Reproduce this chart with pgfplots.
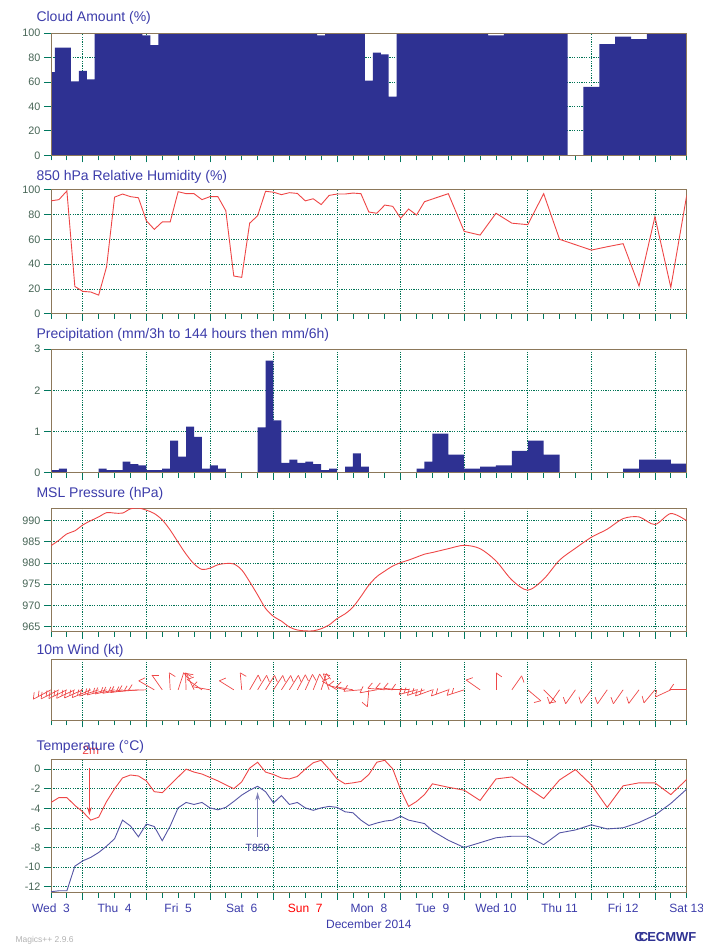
\documentclass[border=0pt]{standalone}
\usepackage{pgfplots}
\pgfplotsset{compat=1.18}
\usepackage{pgfplotstable}
\usetikzlibrary{arrows.meta}
\usepackage{fontspec}
\setmainfont{Liberation Sans}
\definecolor{navy}{RGB}{46,49,146}
\definecolor{framec}{RGB}{140,120,90}
\definecolor{gridc}{RGB}{0,115,85}
\definecolor{tickc}{RGB}{0,120,95}
\definecolor{labc}{RGB}{70,100,85}
\definecolor{titc}{RGB}{60,60,170}
\definecolor{curvered}{RGB}{238,70,70}
\definecolor{curveblue}{RGB}{85,85,165}
\definecolor{arrowblue}{RGB}{130,130,185}
\tikzset{ttl/.style={anchor=west, font=\fontsize{14}{16}\selectfont, color=titc, xshift=-18pt}}
\pgfplotsset{
  met/.style={
    scale only axis, width=635.7pt,
    xmin=0, xmax=240,
    clip mode=individual,
    axis line style={framec, line width=0.9pt},
    xtick={12,36,...,228}, minor xtick={0,6,...,240},
    xticklabels={},
    xtick pos=bottom, ytick pos=left,
    tick align=outside,
    major tick length=7pt, minor tick length=5pt,
    every tick/.style={tickc, line width=0.8pt},
    grid=major,
    major grid style={gridc, dash pattern=on 1.2pt off 1.2pt, line width=0.8pt},
    tick label style={font=\fontsize{10.8}{12}\selectfont, color=labc},
    /pgf/number format/assume math mode=true,
    no markers,
  },
}
\pgfplotstableread{
t a L f2
0 208 20 6
3 207 20 6
6 206 20 6
9 205 20 6
12 204 20 6
15 203 20 6
18 198 20 6
21 195 20 6
24 192 20 6
27 190 20 6
30 188 20 6
33 185 20 6
36 182 18 0
39 150 18 0
42 125 18 0
45 93 17 0
48 72 18 0
51 92 17 0
54 115 18 0
57 145 18 0
60 170 18 0
69 148 17 0
72 95 17 0
75 60 17 0
78 58 17 0
81 58 17 0
84 57 17 0
87 57 17 0
90 58 17 0
93 62 17 0
96 65 17 0
99 68 17 0
102 72 17 0
105 110 17 0
108 150 17 0
111 165 17 0
114 170 17 0
117 185 17 0
120 265 17 0
123 190 17 0
126 175 17 0
129 175 17 0
132 175 17 0
135 180 17 0
138 195 18 6
141 198 18 6
144 200 18 6
150 200 18 6
156 198 18 6
162 145 17 0
168 90 17 0
174 55 17 0
180 -40 17 0
186 -45 17 0
192 235 17 0
198 235 17 0
204 233 17 0
210 235 17 0
216 235 17 0
222 233 17 0
228 230 17 0
234 205 17 0
240 180 17 0
}\windtable
\begin{document}
\begin{tikzpicture}
\useasboundingbox (0pt,0pt) rectangle (702pt,-945pt);
% ---------------- Cloud amount
\begin{axis}[met, at={(51pt,-33pt)}, anchor=north west, height=122.3pt,
  ymin=0, ymax=100, ytick={0,20,...,100}]
\addplot[const plot, fill=navy, draw=none] table {
0 68
1.5 88
7.5 60.5
10.5 69
13.5 62
16.5 99
19.5 100
34.5 98
37.5 90
40.5 100
100.5 98
103.5 100
118.5 61
121.5 84
124.5 82.5
127.5 48
130.5 100
165 98
171 100
195 0
201 56
207 91
213 97
219 95
225 100
240 100
} \closedcycle;
\draw[framec, line width=0.9pt] (rel axis cs:0,0) rectangle (rel axis cs:1,1);
\node[ttl] at (rel axis cs:0,1) [yshift=15pt] {Cloud Amount (\%)};
\end{axis}
% ---------------- RH 850
\begin{axis}[met, at={(51pt,-189.7pt)}, anchor=north west, height=124pt,
  ymin=0, ymax=100, ytick={0,20,...,100}]
\addplot[curvered, line width=0.9pt] table {
0 91
3 92
6 99
9 22
12 18
15 17.5
18 15
21 38
24 94
27 96.5
30 94.4
33 93.5
36 75
39 68
42 74
45 74
48 98.4
51 96.8
54 96.8
57 92
60 94.4
63 94.4
66 83
69 30.4
72 29.3
75 73
78 79
81 98.7
84 98
87 96
90 97.6
93 97
96 91
99 92.7
102 88
105 95.4
108 96.5
111 96.5
114 97.3
117 96.8
120 82
123 81
126 87.6
129 86.6
132 77
135 84.4
138 79.6
141 90.3
144 92.5
150 96.8
156 66.4
162 63.4
168 81
174 73
180 71.8
186 96.8
192 60
204 51.3
210 54
216 56.5
222 22.3
228 78.2
234 21.2
240 95.4
};
\node[ttl] at (rel axis cs:0,1) [yshift=13pt] {850 hPa Relative Humidity (\%)};
\end{axis}
% ---------------- Precipitation
\begin{axis}[met, at={(51pt,-349pt)}, anchor=north west, height=123.7pt,
  ymin=0, ymax=3, ytick={0,1,2,3}]
\addplot[const plot, fill=navy, draw=none] table {
0 0.065
3 0.1
6 0
18 0.1
21 0.065
27 0.27
30 0.21
33 0.18
36 0.065
42 0.1
45 0.78
48 0.39
51 1.12
54 0.87
57 0.1
60 0.18
63 0.1
66 0
78 1.1
81 2.72
84 1.27
87 0.24
90 0.32
93 0.24
96 0.27
99 0.21
102 0.065
105 0.1
108 0
111 0.15
114 0.47
117 0.15
120 0
138 0.1
141 0.27
144 0.95
150 0.44
156 0.1
162 0.15
168 0.18
174 0.53
180 0.78
186 0.44
192 0
216 0.1
222 0.32
234 0.22
240 0.22
} \closedcycle;
\draw[framec, line width=0.9pt] (rel axis cs:0,0) rectangle (rel axis cs:1,1);
\node[ttl] at (rel axis cs:0,1) [yshift=14pt] {Precipitation (mm/3h to 144 hours then mm/6h)};
\end{axis}
% ---------------- MSL pressure
\begin{axis}[met, at={(51pt,-508pt)}, anchor=north west, height=123.7pt,
  ymin=963.8, ymax=993, ytick={965,970,...,990}]
\addplot[curvered, line width=0.9pt, smooth] table {
0 984.1
3 985.4
6 986.9
9 987.6
12 989.0
15 990.0
18 990.9
21 991.9
24 991.8
27 991.8
30 992.8
33 993.0
36 992.5
39 991.7
42 990.2
45 987.8
48 984.9
51 982.1
54 979.8
57 978.5
60 978.8
63 979.6
66 979.9
69 979.8
72 978.4
75 975.6
78 972.5
81 969.3
84 967.4
87 966.3
90 964.9
93 964.2
96 964.0
99 964.0
102 964.5
105 965.4
108 966.9
111 968.0
114 969.6
117 972.1
120 974.8
123 976.8
126 978.1
129 979.3
132 980.1
135 980.7
138 981.4
141 982.1
144 982.5
150 983.4
156 984.2
162 983.4
168 980.5
174 976.0
180 973.6
186 976.2
192 980.7
198 983.5
204 986.1
210 988.0
216 990.5
222 990.9
228 989.1
234 991.7
240 990.0
};
\node[ttl] at (rel axis cs:0,1) [yshift=14pt] {MSL Pressure (hPa)};
\end{axis}
% ---------------- Wind
\begin{axis}[met, at={(51pt,-659.3pt)}, anchor=north west, height=61pt,
  ymin=-30.5, ymax=30.5, ytick=\empty, ymajorgrids=false, clip=false]
\addplot[curvered, line width=0.7pt,
  quiver={u={\thisrow{L}*cos(\thisrow{a})/2.649}, v={\thisrow{L}*sin(\thisrow{a})}}]
  table[x=t, y expr=0] {\windtable};
\addplot[curvered, line width=0.7pt,
  quiver={u={7*cos(\thisrow{a}-125)/2.649}, v={7*sin(\thisrow{a}-125)}}]
  table[x expr={\thisrow{t}+\thisrow{L}*cos(\thisrow{a})/2.649}, y expr={\thisrow{L}*sin(\thisrow{a})}] {\windtable};
\addplot[curvered, line width=0.7pt,
  quiver={u={\thisrow{f2}*cos(\thisrow{a}-125)/2.649}, v={\thisrow{f2}*sin(\thisrow{a}-125)}}]
  table[x expr={\thisrow{t}+0.72*\thisrow{L}*cos(\thisrow{a})/2.649}, y expr={0.72*\thisrow{L}*sin(\thisrow{a})}] {\windtable};
\node[ttl] at (rel axis cs:0,1) [yshift=8.5pt] {10m Wind (kt)};
\end{axis}
% ---------------- Temperature
\begin{axis}[met, at={(51pt,-759.3pt)}, anchor=north west, height=133.4pt,
  ymin=-12.6, ymax=1.0, ytick={-12,-10,...,0},
  extra x ticks={0,24,...,240},
  extra x tick labels={Wed\ \ 3,Thu\ \ 4,Fri\ \ 5,Sat\ \ 6,{\color{red}Sun\ \ 7},Mon\ \ 8,Tue\ \ 9,Wed 10,Thu 11,Fri 12,Sat 13},
  extra x tick style={major tick length=0pt, grid=none,
    tick label style={font=\fontsize{12}{14}\selectfont, color=titc, yshift=-8pt}}]
\addplot[curvered, line width=0.9pt] table {
0 -3.4
3 -2.9
6 -2.9
9 -3.7
12 -4.35
15 -5.2
18 -4.9
21 -3.3
24 -2.0
27 -0.9
30 -0.6
33 -0.7
36 -1.2
39 -2.3
42 -2.4
45 -1.6
48 -0.8
51 0
54 -0.3
57 -0.5
60 -0.85
63 -1.2
66 -1.6
69 -2.0
72 -1.3
75 0.1
78 0.7
81 -0.3
84 -0.55
87 -0.9
90 -1.0
93 -0.75
96 0
99 0.65
102 0.9
105 0
108 -1.0
111 -1.5
114 -1.4
117 -1.26
120 -0.55
123 0.7
126 0.9
129 0.03
132 -2.1
135 -3.8
138 -3.3
141 -2.6
144 -1.5
150 -1.85
156 -2.15
162 -3.2
168 -1.0
174 -0.8
180 -1.9
186 -3.0
192 -1.1
198 -0.05
204 -1.6
210 -3.9
216 -1.7
222 -1.4
228 -1.4
234 -2.6
240 -1.05
};
\addplot[curveblue, line width=0.9pt] table {
0 -12.5
3 -12.4
6 -12.4
9 -9.9
12 -9.35
15 -9.0
18 -8.5
21 -7.85
24 -7.1
27 -5.2
30 -5.8
33 -6.9
36 -5.6
39 -5.85
42 -7.3
45 -5.8
48 -3.95
51 -3.4
54 -3.6
57 -3.4
60 -3.95
63 -4.15
66 -3.9
69 -3.3
72 -2.65
75 -2.15
78 -1.75
81 -2.3
84 -3.45
87 -2.7
90 -3.6
93 -3.4
96 -3.95
99 -4.2
102 -3.95
105 -3.8
108 -3.9
111 -4.35
114 -4.45
117 -5.2
120 -5.75
123 -5.5
126 -5.3
129 -5.2
132 -4.8
135 -5.2
141 -5.55
144 -6.3
150 -7.25
156 -7.99
162 -7.5
168 -7.0
174 -6.84
180 -6.84
186 -7.7
192 -6.5
198 -6.2
204 -5.68
210 -6.1
216 -5.98
222 -5.44
228 -4.69
234 -3.5
240 -2.04
};
\draw[draw=curvered, line width=1.1pt, -{Stealth[length=8pt,width=4.5pt,fill=curvered]}] (axis cs:14.5,0.1) -- (axis cs:14.5,-4.7);
\node[text=curvered, font=\fontsize{12}{12}\selectfont] at (axis cs:15,1.9) {2m};
\draw[draw=arrowblue, line width=1.1pt, -{Stealth[length=8pt,width=4.5pt,fill=arrowblue]}] (axis cs:78,-6.9) -- (axis cs:78,-2.35);
\node[text=navy, font=\fontsize{10.5}{12}\selectfont] at (axis cs:78,-8.05) {T850};
\node[ttl] at (rel axis cs:0,1) [yshift=12pt] {Temperature (°C)};
\node[text=titc, font=\fontsize{12}{14}\selectfont] at (rel axis cs:0.5,0) [yshift=-31.5pt] {December 2014};
\end{axis}
\node[anchor=west, text=black!30, font=\fontsize{8.5}{10}\selectfont] at (12pt,-940pt) {Magics++ 2.9.6};
\node[anchor=west, text=navy, font=\bfseries\fontsize{13}{14}\selectfont] at (631pt,-937.5pt) {C\kern-5pt C\kern-1pt ECMWF};
\end{tikzpicture}
\end{document}
